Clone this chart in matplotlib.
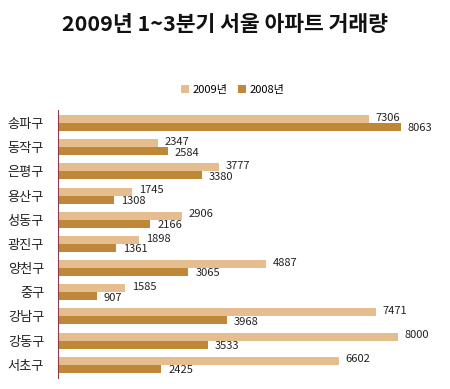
import matplotlib
matplotlib.use('Agg')
from matplotlib import pyplot as plt
import numpy as np

plt.rcParams['font.family'] = ['Noto Sans CJK KR', 'DejaVu Sans']

# Data
districts = ['송파구', '동작구', '은평구', '용산구', '성동구', '광진구',
             '양천구', '중구', '강남구', '강동구', '서초구']
sales_2009 = [7306, 2347, 3777, 1745, 2906, 1898, 4887, 1585, 7471, 8000, 6602]
sales_2008 = [8063, 2584, 3380, 1308, 2166, 1361, 3065, 907, 3968, 3533, 2425]

color_2009 = '#E6BD8E'
color_2008 = '#BF8838'

fig = plt.figure(figsize=(4.5, 3.89), dpi=100)
ax = fig.add_axes([0.129, 0.028, 0.85, 0.69])

y = np.arange(len(districts))
h = 0.33
bars09 = ax.barh(y - h / 2, sales_2009, height=h, color=color_2009, label='2009년')
bars08 = ax.barh(y + h / 2, sales_2008, height=h, color=color_2008, label='2008년')

# value labels
for b, v in zip(bars09, sales_2009):
    ax.annotate(str(v), (b.get_width(), b.get_y() + b.get_height() / 2),
                xytext=(5, 1), textcoords='offset points', va='center', ha='left',
                fontsize=8, color='#222222')
for b, v in zip(bars08, sales_2008):
    ax.annotate(str(v), (b.get_width(), b.get_y() + b.get_height() / 2),
                xytext=(5, -1), textcoords='offset points', va='center', ha='left',
                fontsize=8, color='#222222')

ax.set_xlim(0, 9000)
ax.set_ylim(len(districts) - 0.45, -0.55)
ax.set_yticks(y)
ax.set_yticklabels(districts, fontsize=9.5, color='#222222')
ax.tick_params(axis='y', length=0, pad=10)
ax.set_xticks([])
for s in ['top', 'right', 'bottom']:
    ax.spines[s].set_visible(False)
ax.spines['left'].set_color('#8B3A4A')
ax.spines['left'].set_linewidth(0.8)

fig.legend(loc='upper left', bbox_to_anchor=(0.38, 0.808), ncol=2, frameon=False,
           fontsize=8, handlelength=0.7, handleheight=0.7, handletextpad=0.3,
           columnspacing=1.0)

fig.text(0.5, 0.937, '2009년 1~3분기 서울 아파트 거래량', ha='center', va='center',
         fontsize=15.5, fontweight='bold', color='#111111')

fig.savefig('out.png', dpi=100)
